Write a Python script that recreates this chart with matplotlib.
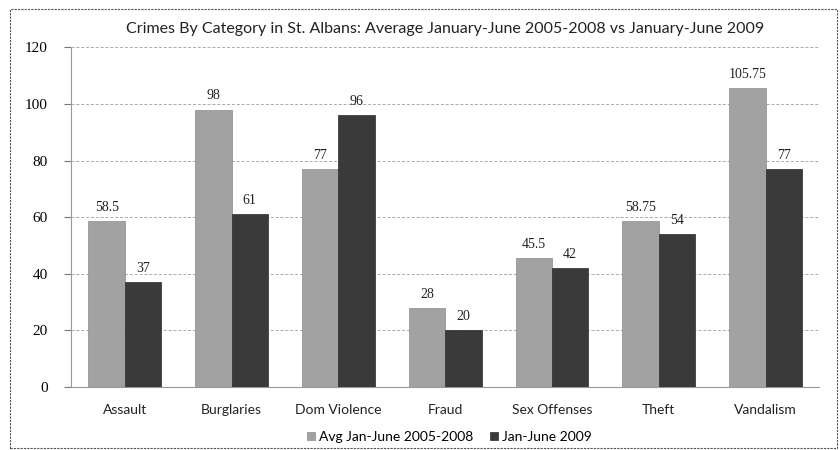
import numpy as np
import matplotlib
matplotlib.use('Agg')
import matplotlib.pyplot as plt
from matplotlib.patches import Rectangle

categories = ['Assault', 'Burglaries', 'Dom Violence', 'Fraud', 'Sex Offenses', 'Theft', 'Vandalism']
avg_2005_2008 = [58.5, 98, 77, 28, 45.5, 58.75, 105.75]
jan_june_2009 = [37, 61, 96, 20, 42, 54, 77]
value_labels_avg = ['58.5', '98', '77', '28', '45.5', '58.75', '105.75']
value_labels_2009 = ['37', '61', '96', '20', '42', '54', '77']
series_names = ['Avg Jan-June 2005-2008', 'Jan-June 2009']

sans = ['Lato', 'DejaVu Sans']
serif = ['Liberation Serif', 'DejaVu Serif']

fig = plt.figure(figsize=(8.4, 4.5), dpi=100)
ax = fig.add_axes([0.085, 0.14, 0.89, 0.755])

x = np.arange(len(categories))
w = 0.34
b1 = ax.bar(x - w / 2, avg_2005_2008, w, color='#a2a2a2', edgecolor='#8a8a8a', linewidth=0.5,
            label=series_names[0], zorder=3)
b2 = ax.bar(x + w / 2, jan_june_2009, w, color='#3a3a3a', edgecolor='#2a2a2a', linewidth=0.5,
            label=series_names[1], zorder=3)

for rect, lab in zip(b1, value_labels_avg):
    ax.text(rect.get_x() + rect.get_width() / 2, rect.get_height() + 2.5, lab,
            ha='center', va='bottom', fontsize=10, family=serif, color='#222222')
for rect, lab in zip(b2, value_labels_2009):
    ax.text(rect.get_x() + rect.get_width() / 2, rect.get_height() + 2.5, lab,
            ha='center', va='bottom', fontsize=10, family=serif, color='#222222')

ax.set_xlim(-0.5, len(categories) - 0.5)
ax.set_ylim(0, 120)
ax.set_yticks(range(0, 121, 20))
ax.set_xticks(x)
ax.set_xticklabels(categories, family=sans, fontsize=10, color='#222222')
for t in ax.get_yticklabels():
    t.set_family(serif)
    t.set_fontsize(11)
ax.tick_params(axis='y', length=5, color='#777777', pad=12)
ax.tick_params(axis='x', length=0, pad=12)
ax.yaxis.grid(True, color='#aaaaaa', linestyle=(0, (3, 2)), linewidth=0.7, zorder=0)
ax.spines['top'].set_visible(False)
ax.spines['right'].set_visible(False)
ax.spines['left'].set_color('#999999')
ax.spines['bottom'].set_color('#999999')
ax.spines['left'].set_linestyle((0, (2, 1)))

ax.set_title('Crimes By Category in St. Albans: Average January-June 2005-2008 vs January-June 2009',
             family=sans, fontsize=11.5, color='#222222', pad=10)

leg = fig.legend(handles=[b1, b2], labels=series_names, loc='lower center', ncol=2,
                 bbox_to_anchor=(0.535, -0.012), frameon=False,
                 prop={'family': sans, 'size': 10}, handlelength=0.6, handleheight=0.6,
                 columnspacing=1.2, handletextpad=0.3)

fig.patches.append(Rectangle((0.012, 0.005), 0.985, 0.975, transform=fig.transFigure,
                             fill=False, edgecolor='#555555', linewidth=0.8,
                             linestyle=(0, (2, 1))))

fig.savefig('out.png', dpi=100)
